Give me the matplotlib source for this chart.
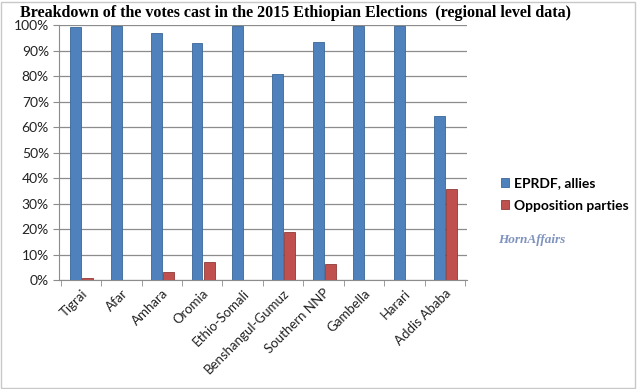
import numpy as np
import matplotlib.pyplot as plt
from matplotlib.patches import Rectangle

regions = ["Tigrai", "Afar", "Amhara", "Oromia", "Ethio-Somali",
           "Benshangul-Gumuz", "Southern NNP", "Gambella", "Harari", "Addis Ababa"]
eprdf = [99.2, 99.8, 97.0, 93.0, 99.9, 81.0, 93.6, 99.9, 99.9, 64.3]
opposition = [0.8, 0.2, 3.0, 7.0, 0.1, 19.0, 6.4, 0.1, 0.1, 35.7]

blue = "#4F81BD"
red = "#C0504D"

fig = plt.figure(figsize=(6.38, 3.89), dpi=100)
ax = fig.add_axes([0.092, 0.28, 0.64, 0.655])

x = np.arange(len(regions))
w = 0.27
ax.bar(x - 0.13, eprdf, w, color=blue, edgecolor="#3A6698", linewidth=0.6,
       label="EPRDF, allies", zorder=3)
ax.bar(x + 0.17, opposition, w, color=red, edgecolor="#8E3A38", linewidth=0.6,
       label="Opposition parties", zorder=3)

ax.set_xlim(-0.55, len(regions) - 0.45)
ax.set_ylim(0, 100)
ax.set_yticks(np.arange(0, 101, 10))
ax.set_yticklabels([f"{v}%" for v in range(0, 101, 10)], fontsize=10,
                   family="Lato", color="#222222")
ax.yaxis.grid(True, color="#8C8C8C", linewidth=0.9, zorder=0)
ax.set_axisbelow(True)

ax.set_xticks(x)
ax.set_xticklabels(regions, rotation=45, ha="right", rotation_mode="anchor",
                   fontsize=9.5, family="Lato", color="#222222")
ax.set_xticks(np.arange(-0.5, len(regions), 1), minor=True)
ax.tick_params(axis="x", which="major", length=0, pad=5)
ax.tick_params(axis="x", which="minor", length=4, color="#8C8C8C")
ax.tick_params(axis="y", length=4, color="#8C8C8C", pad=3)
for s in ["top", "right"]:
    ax.spines[s].set_visible(False)
ax.spines["left"].set_color("#8C8C8C")
ax.spines["bottom"].set_color("#8C8C8C")

fig.text(0.032, 0.967, "Breakdown of the votes cast in the 2015 Ethiopian Elections  (regional level data)",
         fontsize=11.5, fontweight="bold", family="Liberation Serif", va="center")

leg = fig.legend(loc="center left", bbox_to_anchor=(0.765, 0.5), frameon=False,
                 handlelength=0.6, handleheight=0.6, handletextpad=0.4, labelspacing=0.75,
                 prop={"family": "Lato", "weight": "bold", "size": 10})

fig.text(0.781, 0.383, "HornAffairs", fontsize=9.5, fontweight="bold", style="italic",
         family="Liberation Serif", color="#7F93BF", va="center")

fig.patches.append(Rectangle((0.002, 0.003), 0.994, 0.992, transform=fig.transFigure,
                             fill=False, edgecolor="#C8C8C8", linewidth=1))

fig.savefig("out.png", dpi=100)
